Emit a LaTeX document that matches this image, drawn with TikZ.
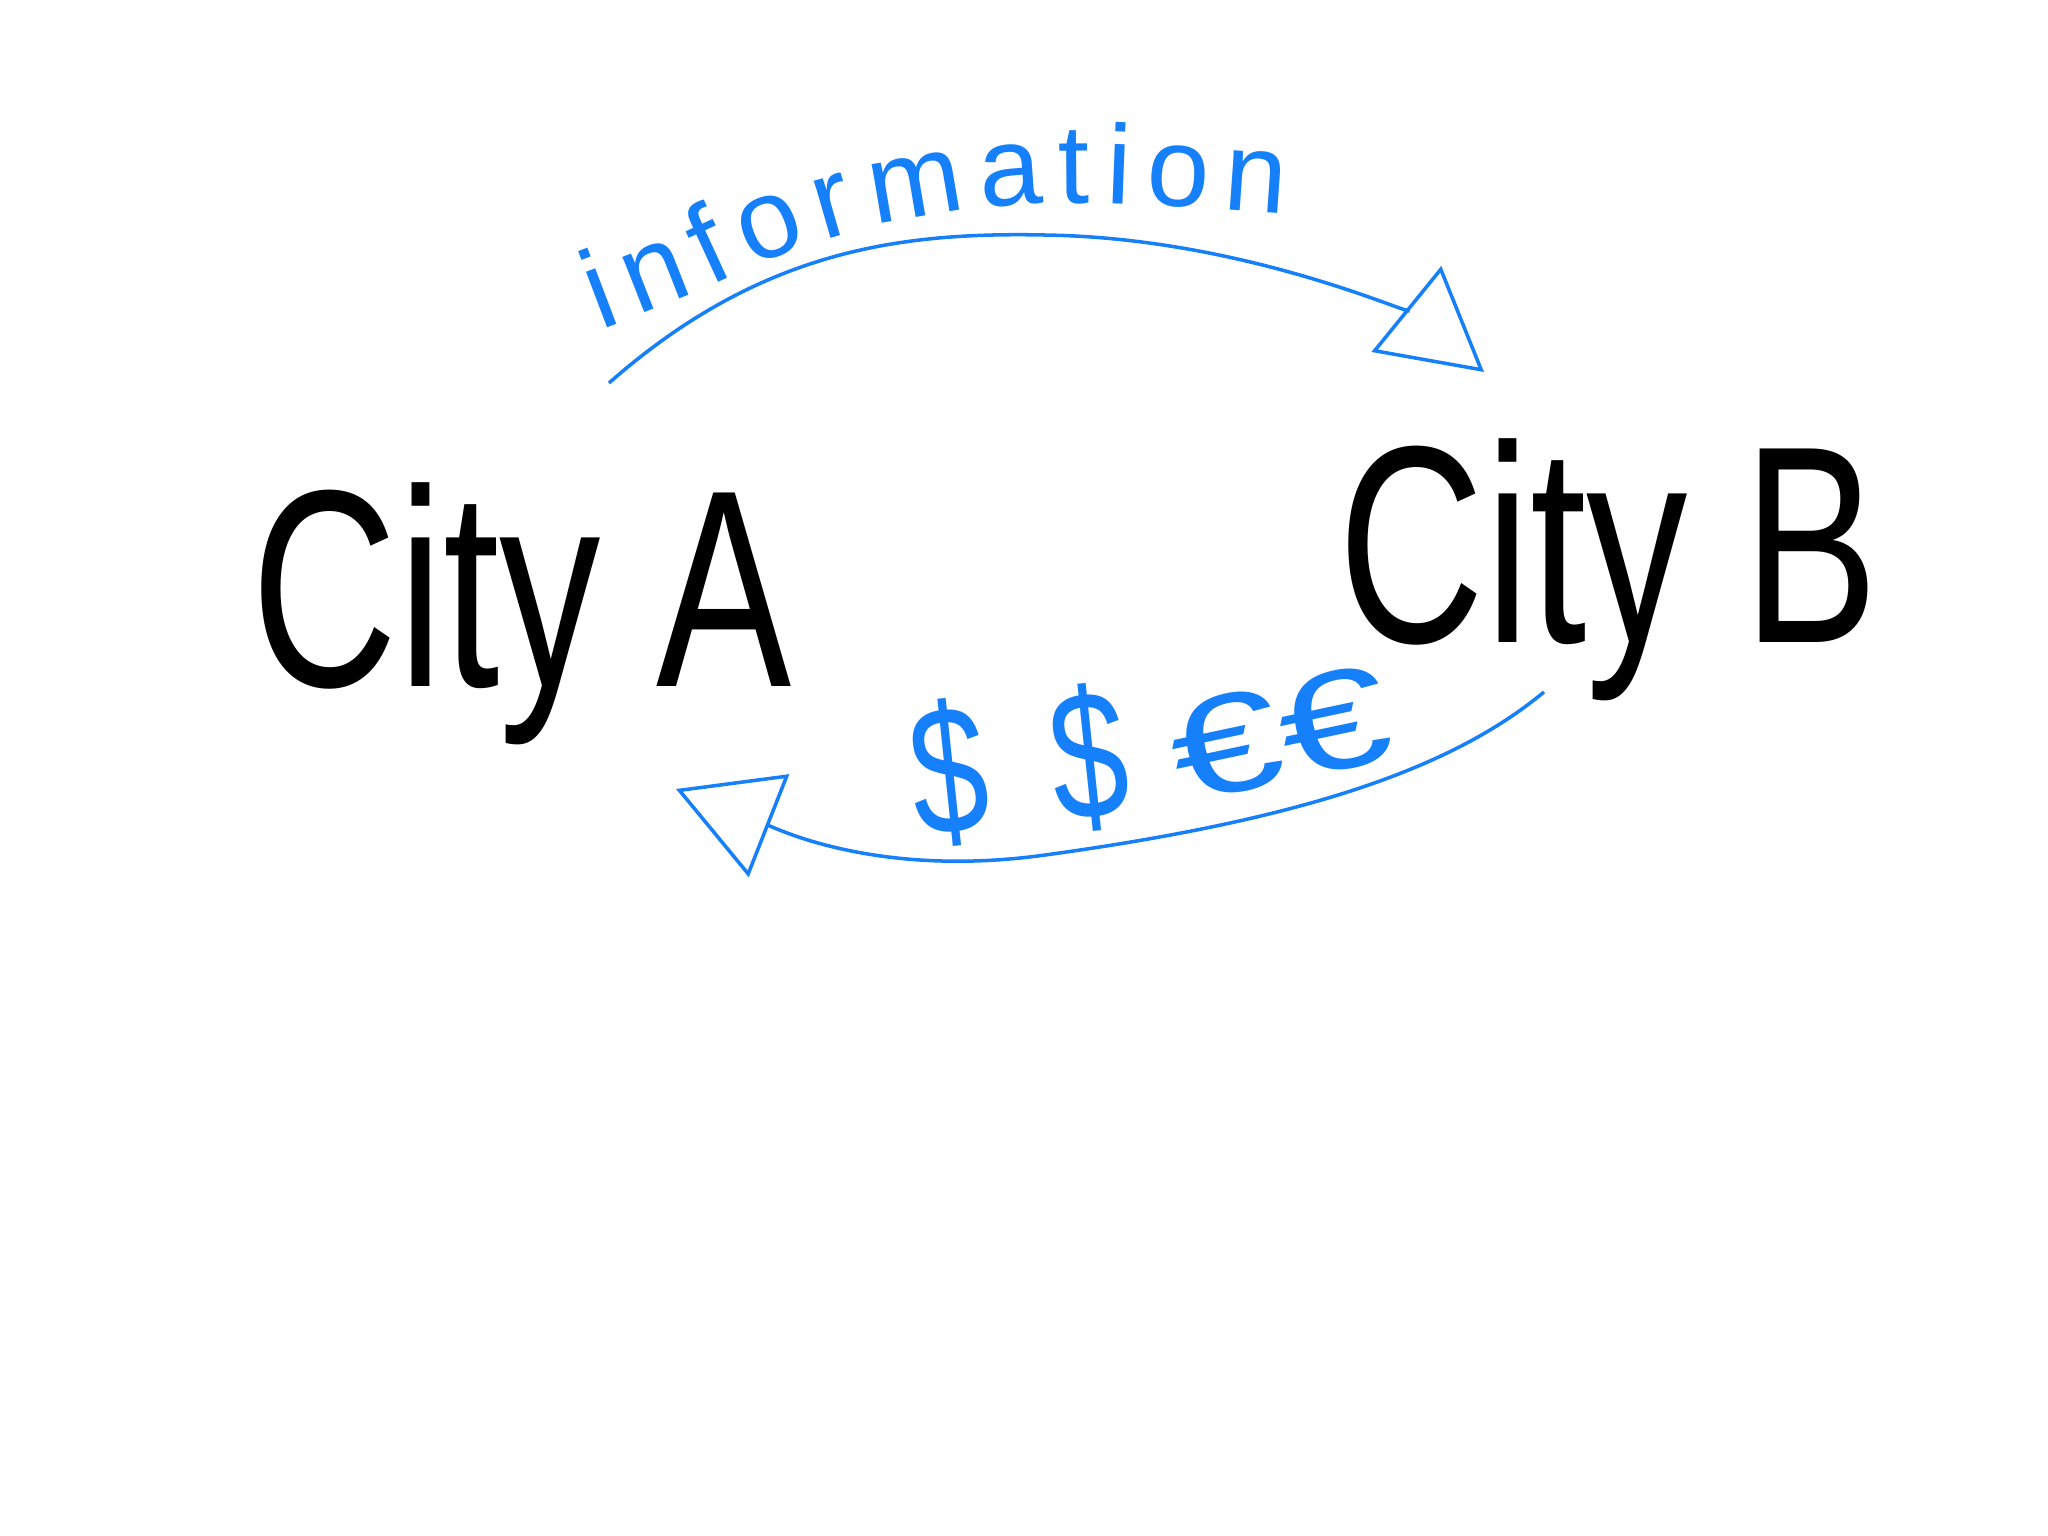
\documentclass[tikz,border=0pt]{standalone}
\usepackage{fontspec}
\setmainfont{Liberation Sans}
\usetikzlibrary{arrows.meta,decorations.text}
\definecolor{pen}{RGB}{21,128,250}
\begin{document}
\begin{tikzpicture}[x=0.01cm,y=-0.01cm,
 city/.style={font=\fontsize{80}{80}\selectfont, anchor=base, inner sep=0pt},
 flow/.style={draw=pen, line width=1pt, -{Triangle[open,length=1cm,width=1.1cm]}},
 lbl/.style={text=pen, inner sep=0pt}]
\useasboundingbox[fill=white] (0,0) rectangle (2048,1536);
\node[city] (A) at (522,686) {\scalebox{0.72}[1]{City A}};
\node[city] (B) at (1609,642) {\scalebox{0.72}[1]{City B}};
\coordinate (i1) at (609,383);
\coordinate (i2) at (1484,372);
\coordinate (m1) at (1544,692);
\coordinate (m2) at (676,789);
\draw[flow] (i1) .. controls (760,250) and (900,232) .. (1045,235) .. controls (1250,238) and (1420,320) .. (i2);
\draw[flow] (m1) .. controls (1450,770) and (1300,820) .. (1045,855) .. controls (880,878) and (780,830) .. (m2);
\path[decorate, decoration={text along path, text align={fit to path},
  text={|\color{pen}\fontsize{32}{32}\selectfont|information}}]
  plot[smooth, tension=0.6] coordinates {(600,330) (690,295) (800,248) (925,216) (1077,203) (1285,214)};
\node[lbl, font=\fontsize{52}{52}\selectfont, rotate=6] (dollars) at (1019,765)
  {\scalebox{0.75}[1]{\$}\hspace{0.35em}\scalebox{0.75}[1]{\$}};
\node[lbl, font=\fontsize{40}{40}\selectfont, rotate=12] (euros) at (1280,733) {\scalebox{1.4}[1]{€€}};
\end{tikzpicture}
\end{document}
